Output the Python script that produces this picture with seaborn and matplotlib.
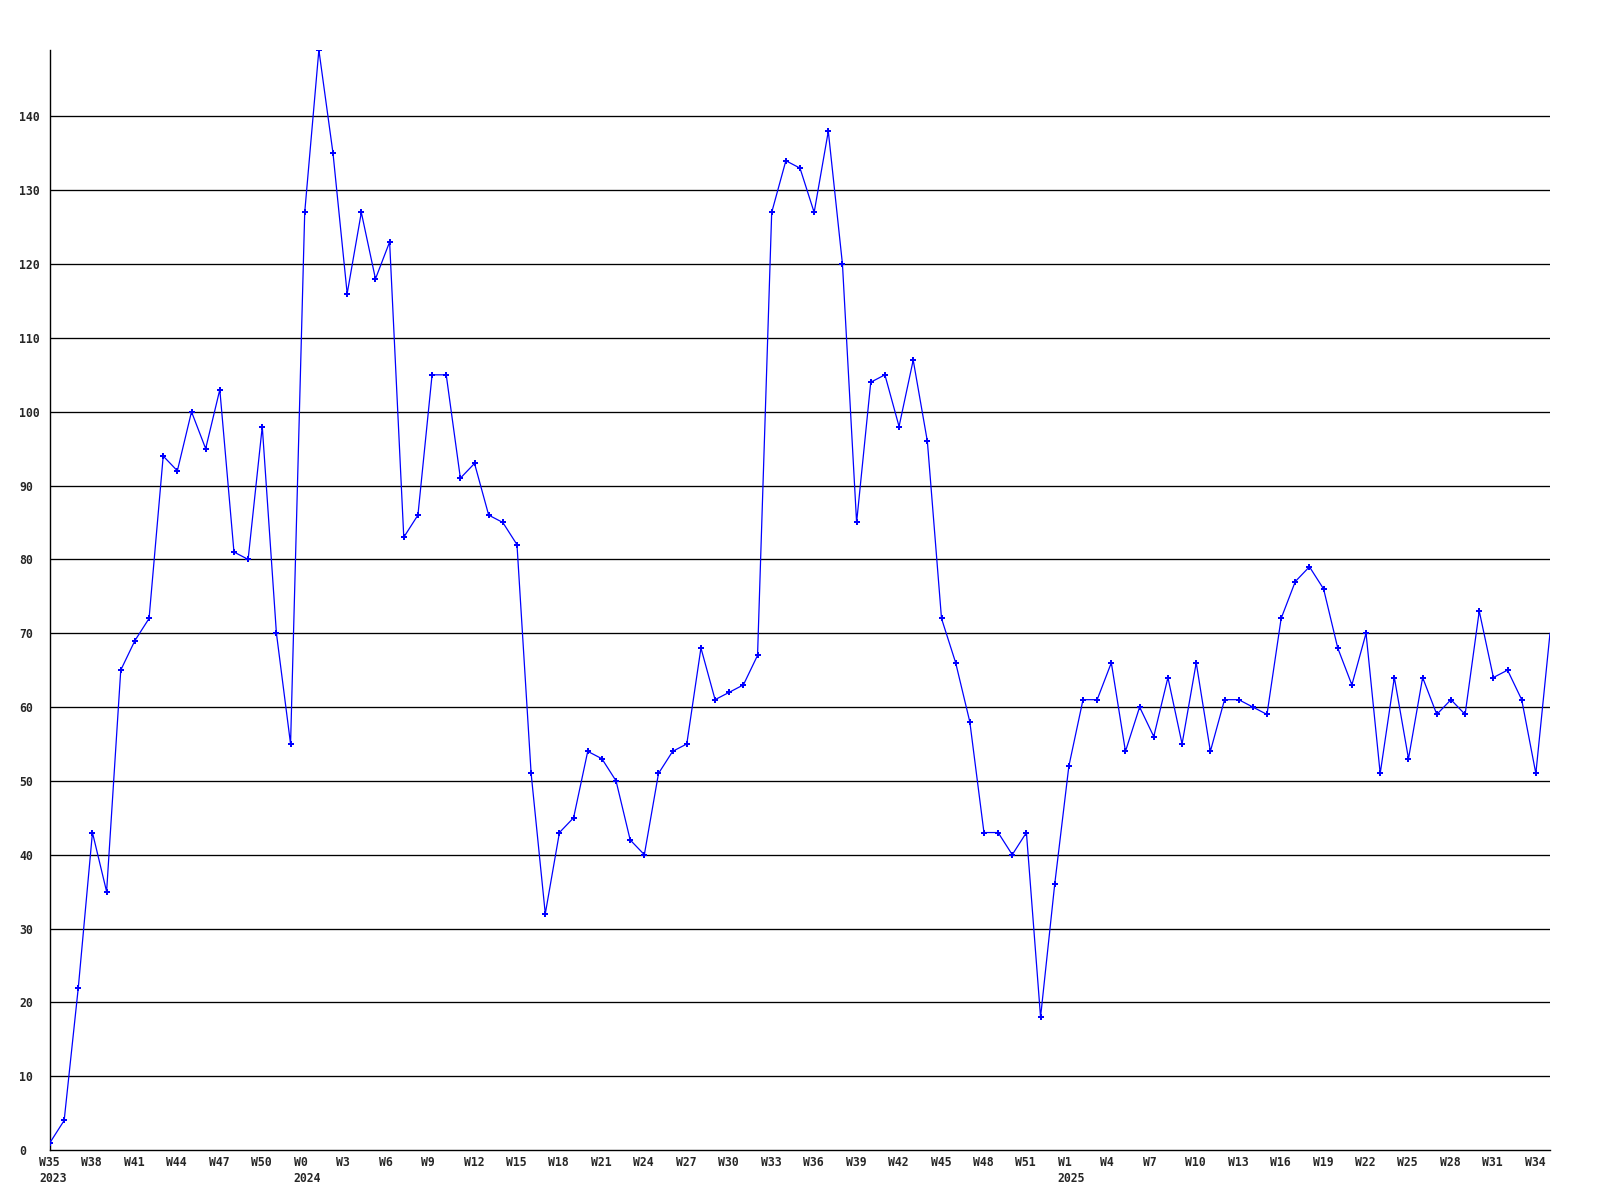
import seaborn as sns
import matplotlib.pyplot as plt
import matplotlib.transforms as mtransforms
import numpy as np
import pandas as pd

# weekly values, W35 2023 .. W35 2025
values = [1, 4, 22, 43, 35, 65, 69, 72, 94, 92, 100, 95, 103, 81, 80, 98, 70, 55,
          127, 149, 135, 116, 127, 118, 123, 83, 86, 105, 105, 91, 93, 86, 85, 82,
          51, 32, 43, 45, 54, 53, 50, 42, 40, 51, 54, 55, 68, 61, 62, 63, 67,
          127, 134, 133, 127, 138, 120, 85, 104, 105, 98, 107, 96, 72, 66, 58,
          43, 43, 40, 43, 18, 36, 52, 61, 61, 66, 54, 60, 56, 64, 55, 66, 54,
          61, 61, 60, 59, 72, 77, 79, 76, 68, 63, 70, 51, 64, 53, 64, 59, 61,
          59, 73, 64, 65, 61, 51, 70]

weeks_2023 = [35, 38, 41, 44, 47, 50]
weeks_2024 = list(range(0, 52, 3))
weeks_2025 = list(range(1, 35, 3))
years = ['2023', '2024', '2025']

tick_labels = []
for year, weeks in zip(years, [weeks_2023, weeks_2024, weeks_2025]):
    for i, w in enumerate(weeks):
        tick_labels.append(f'W{w}\n{year}' if i == 0 else f'W{w}')

y_ticks = list(range(0, 150, 10))

df = pd.DataFrame({'week': np.arange(len(values)), 'count': values})

sns.set_style("white")
plt.rcParams['font.family'] = ['DejaVu Sans Mono']

fig = plt.figure(figsize=(16, 12), dpi=100)
ax = fig.add_axes([50 / 1600, 1 - 1150 / 1200, 1500 / 1600, 1100 / 1200])

sns.lineplot(data=df, x='week', y='count', ax=ax, color='#0000ff', linewidth=0.9,
             marker='P', markersize=4.8, markeredgewidth=0, markevery=slice(0, len(values) - 1),
             zorder=3)

ax.set_xlim(0, len(values) - 1)
ax.set_ylim(0, max(values))
ax.set_xlabel('')
ax.set_ylabel('')

ax.set_yticks(y_ticks)
ax.set_yticklabels([str(v) for v in y_ticks], fontsize=8.3, fontweight='bold', ha='left')
ax.tick_params(axis='y', length=0, pad=22)

ax.set_xticks(np.arange(0, len(tick_labels) * 3, 3))
ax.set_xticklabels(tick_labels, fontsize=8.3, fontweight='bold', ha='left',
                   va='top', linespacing=1.3)
ax.tick_params(axis='x', length=0, pad=4.5)
shift = mtransforms.ScaledTranslation(-11 / 100, 0, fig.dpi_scale_trans)
for lbl in ax.get_xticklabels():
    lbl.set_transform(lbl.get_transform() + shift)

for v in y_ticks[1:]:
    ax.axhline(v, color='black', linewidth=0.95, zorder=2)

for side in ['top', 'right']:
    ax.spines[side].set_visible(False)
for side in ['left', 'bottom']:
    ax.spines[side].set_color('black')
    ax.spines[side].set_linewidth(1.0)

plt.savefig('out.png', dpi=100)
